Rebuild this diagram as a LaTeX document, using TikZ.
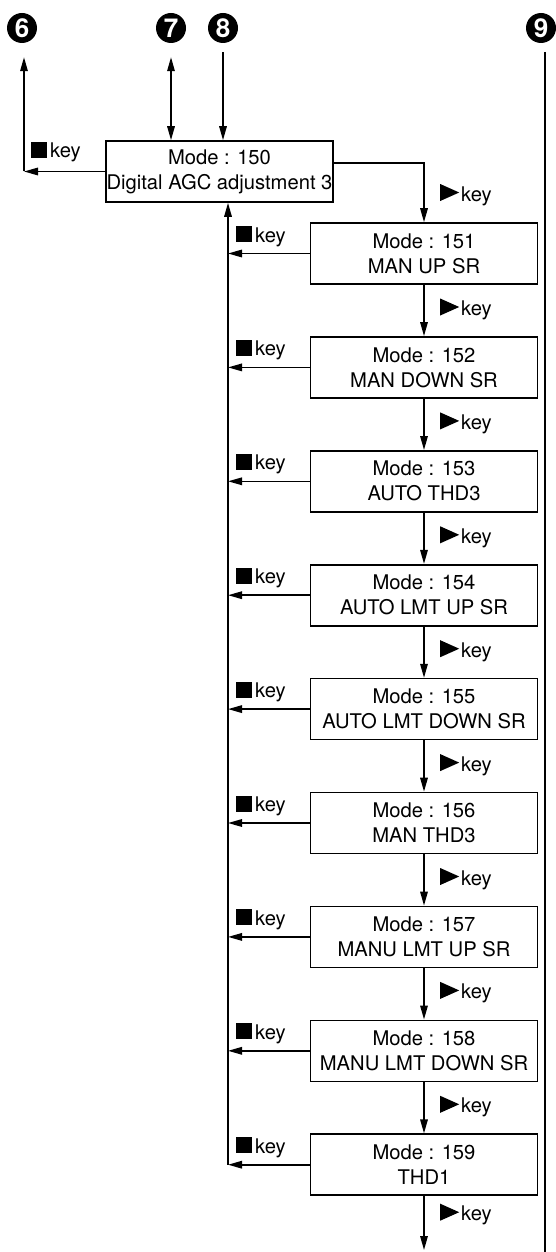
\documentclass[tikz,border=0pt]{standalone}
\usepackage{fontspec}
\setmainfont{TeX Gyre Heros}
\usetikzlibrary{arrows.meta}
\newcommand\stopsym{\rule{16pt}{16pt}}
\newcommand\playsym{\tikz[x=1pt,y=1pt]\fill (0,0)--(0,17)--(19,8.5)--cycle;}
\begin{document}
\begin{tikzpicture}[x=1pt,y=-1pt,
  every node/.style={font=\fontsize{20.2}{25}\selectfont},
  modebox/.style={draw, line width=1.6pt, minimum width=227pt, minimum height=61pt, align=center, inner sep=0pt},
  num/.style={circle, fill=black, text=white, minimum size=30pt, inner sep=0pt, font=\fontsize{26}{26}\selectfont\bfseries},
  conn/.style={line width=1.6pt},
  arr/.style={conn, -{Triangle[length=14pt,width=7.5pt]}},
  darr/.style={conn, {Triangle[length=14pt,width=7.5pt]}-{Triangle[length=14pt,width=7.5pt]}},
  keylbl/.style={anchor=base west, inner sep=0pt},
]
\useasboundingbox (0,0) rectangle (556,1252);

% numbered circles
\node[num] (n6) at (22,28) {6};
\node[num] (n7) at (171,28) {7};
\node[num] (n8) at (223,28) {8};
\node[num] (n9) at (541,28) {9};

% boxes
\node[modebox] (b150) at (219.5,171.5) {Mode : 150\\Digital AGC adjustment 3};
\foreach \k/\txt [count=\i from 0] in {151/MAN UP SR,152/MAN DOWN SR,153/AUTO THD3,154/AUTO LMT UP SR,155/AUTO LMT DOWN SR,156/MAN THD3,157/MANU LMT UP SR,158/MANU LMT DOWN SR,159/THD1}
  \node[modebox] (b\k) at (424,{253.5+113.9*\i}) {Mode : \k\\\txt};

\coordinate (retx) at (228,0);
\coordinate (endd) at (424,1250);
\coordinate (n9top) at (545,52);
\coordinate (n9end) at (545,1252);
\coordinate (n6x) at (24,0);

% top connectors
\draw[arr] (b150.west) -- (b150.west -| n6x);
\draw[arr] (b150.west -| n6x) -- ([yshift=-14pt]n6.south -| n6x);
\draw[darr] ([yshift=-14pt]n7.south) -- (n7 |- b150.north);
\draw[arr] ([yshift=-9pt]n8.south) -- (n8 |- b150.north);
\draw[conn] (n9top) -- (n9end);
\node[keylbl] (k150) at (31,158) {\stopsym\hspace{3pt}key};

% 150 -> 151
\draw[arr] ([yshift=8.5pt]b150.east) -| (b151.north);
\node[keylbl] (f150) at (440,201) {\playsym\hspace{2pt}key};

% chain
\foreach \a/\b in {151/152,152/153,153/154,154/155,155/156,156/157,157/158,158/159}{
  \draw[arr] (b\a.south) -- (b\b.north);
  \node[keylbl] (f\a) at ([yshift=-62pt]b\a.center -| 440,0) {\playsym\hspace{2pt}key};
}
\draw[arr] (b159.south) -- (endd);
\node[keylbl] (f159) at ([yshift=-56pt]b159.center -| 440,0) {\playsym\hspace{2pt}key};

% stop-key returns
\foreach \k in {151,...,159}{
  \draw[arr] (b\k.west) -- (b\k.west -| retx);
  \node[keylbl] (k\k) at ([yshift=11.5pt]b\k.center -| 236,0) {\stopsym\hspace{3pt}key};
}
\draw[arr] (b159.west -| retx) -- (b150.south -| retx);
\end{tikzpicture}
\end{document}
